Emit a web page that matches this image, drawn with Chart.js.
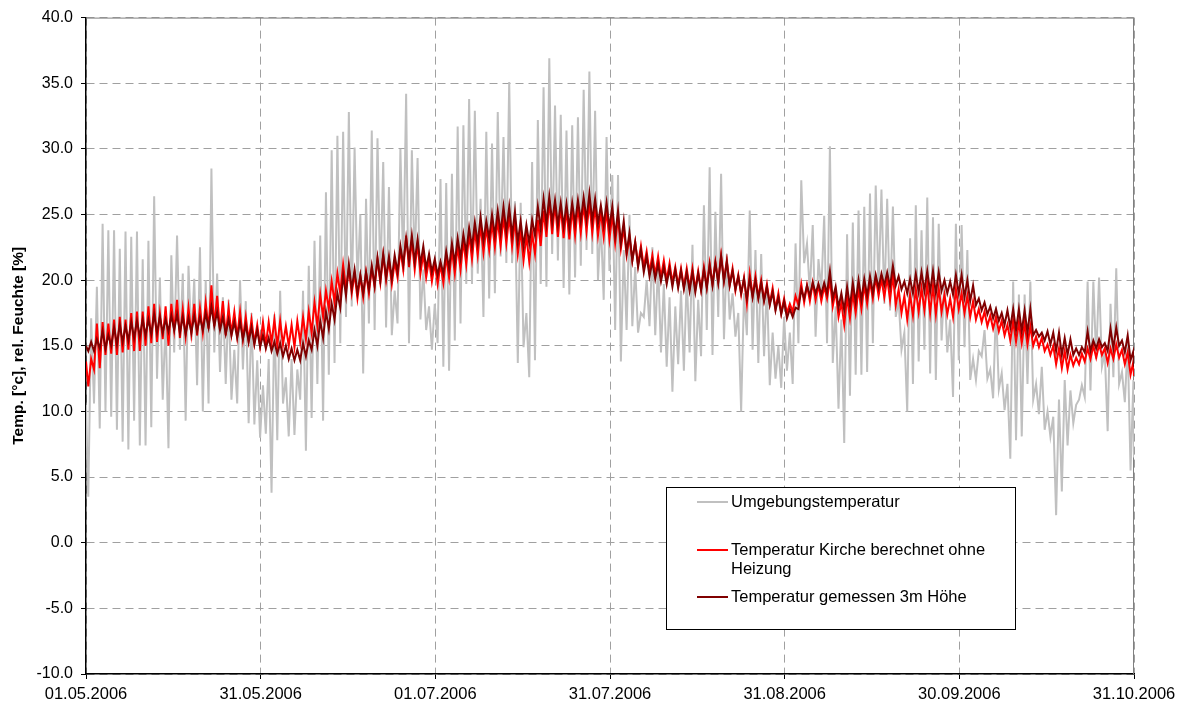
<!DOCTYPE html>
<html>
<head>
<meta charset="utf-8">
<title>Temperaturverlauf Kirche 2006</title>
<script src="https://cdn.jsdelivr.net/npm/chart.js@4.4.0/dist/chart.umd.min.js"></script>
<style>
  html, body { margin: 0; padding: 0; background: #ffffff; }
  canvas { display: block; }
</style>
</head>
<body>
<canvas id="chart" width="1183" height="706"></canvas>
<script>
// Date axis: labels and their position in days after 01.05.2006
const dateLabels = ['01.05.2006', '31.05.2006', '01.07.2006', '31.07.2006', '31.08.2006', '30.09.2006', '31.10.2006'];
const dateTickDays = [0, 30.5, 61, 91.5, 122, 152.5, 183];
const yTickValues = [-10, -5, 0, 5, 10, 15, 20, 25, 30, 35, 40];

// Legend text, one entry per series (a second line where the label wraps)
const legendLines = [
  ['Umgebungstemperatur'],
  ['Temperatur Kirche berechnet ohne', 'Heizung'],
  ['Temperatur gemessen 3m Höhe']
];

// Daily minimum (night) and maximum (afternoon), day 0 = 01.05.2006, in °C
// Outside air
const ambientStart = 10.5;
const ambientLow = [
  3.5, 10.6, 8.7, 10.0, 9.6, 8.6, 7.7, 7.1, 9.3, 7.4,
  7.4, 8.8, 12.5, 10.9, 7.2, 14.5, 14.7, 9.3, 15.4, 12.0,
  10.0, 10.6, 14.5, 13.0, 12.1, 10.9, 10.6, 13.2, 9.1, 9.0,
  8.0, 8.3, 3.8, 7.8, 10.6, 8.1, 8.2, 10.9, 7.0, 9.5,
  12.1, 9.3, 12.8, 13.7, 15.2, 17.2, 18.0, 19.7, 12.9, 16.7,
  16.2, 19.7, 16.4, 15.8, 16.7, 20.6, 15.2, 21.0, 17.0, 16.2,
  14.7, 15.2, 13.4, 13.1, 15.4, 16.7, 19.7, 19.7, 20.5, 17.2,
  18.6, 19.0, 21.8, 21.3, 21.3, 13.7, 14.9, 12.6, 13.9, 19.7,
  19.5, 22.0, 21.5, 19.4, 18.9, 20.2, 21.1, 22.3, 22.0, 20.0,
  18.5, 20.7, 16.2, 13.8, 16.2, 16.5, 16.0, 17.2, 16.5, 15.8,
  14.5, 13.4, 11.5, 13.6, 13.1, 14.5, 12.3, 14.2, 16.2, 14.3,
  17.2, 15.5, 17.0, 15.7, 10.0, 15.8, 14.7, 13.7, 14.2, 12.0,
  12.5, 11.8, 13.1, 12.1, 15.2, 21.3, 19.0, 15.7, 19.2, 15.2,
  13.7, 10.2, 7.6, 11.2, 12.8, 12.8, 13.0, 15.2, 19.2, 18.2,
  17.7, 17.2, 14.7, 10.0, 12.1, 13.8, 14.7, 12.9, 12.4, 15.4,
  14.5, 11.1, 13.9, 14.9, 12.4, 12.4, 14.2, 12.5, 11.0, 11.7,
  10.1, 6.4, 7.8, 8.1, 12.1, 10.9, 9.8, 8.6, 8.1, 2.1,
  3.9, 7.4, 9.1, 10.9, 11.1, 11.6, 14.0, 13.4, 8.5, 12.6,
  12.1, 10.7, 5.5
];
const ambientHigh = [
  17.1, 19.5, 24.3, 23.8, 23.8, 22.4, 23.7, 23.3, 23.7, 21.6,
  23.0, 26.4, 20.2, 17.0, 21.9, 23.4, 20.5, 21.1, 20.1, 22.5,
  20.0, 28.5, 20.5, 18.7, 18.5, 14.7, 20.0, 18.4, 17.5, 13.9,
  12.0, 14.0, 17.4, 19.2, 12.6, 14.0, 13.2, 19.2, 21.1, 23.0,
  23.4, 26.7, 29.9, 31.0, 31.3, 32.8, 30.1, 25.0, 26.2, 31.4,
  30.8, 29.0, 27.1, 19.2, 30.0, 34.2, 29.9, 29.3, 20.8, 18.0,
  18.2, 27.7, 27.4, 28.1, 31.7, 31.8, 33.8, 32.9, 26.2, 31.3,
  30.4, 32.8, 30.9, 35.1, 26.0, 25.9, 17.5, 29.0, 32.2, 34.7,
  36.9, 33.3, 32.6, 31.4, 31.8, 32.4, 34.5, 35.9, 32.9, 24.5,
  30.9, 28.0, 28.0, 22.3, 25.0, 21.0, 17.5, 20.0, 22.5, 21.3,
  19.7, 18.7, 18.0, 19.2, 20.3, 22.7, 18.5, 25.7, 28.6, 25.2,
  28.1, 22.0, 19.0, 17.5, 19.0, 25.3, 22.3, 22.0, 19.7, 16.0,
  15.0, 17.2, 16.0, 22.8, 27.6, 22.8, 24.2, 21.6, 24.9, 30.2,
  18.0, 17.0, 23.5, 24.4, 25.3, 25.6, 26.6, 27.2, 26.9, 26.2,
  25.6, 18.5, 16.0, 23.2, 25.7, 23.8, 26.3, 24.8, 24.3, 20.0,
  17.0, 24.3, 24.2, 22.3, 14.0, 14.6, 16.2, 13.2, 18.0, 12.9,
  12.1, 19.9, 18.9, 18.9, 19.9, 12.1, 13.4, 10.0, 9.6, 10.9,
  12.4, 11.6, 10.5, 12.0, 19.9, 19.9, 20.2, 14.5, 18.2, 20.9,
  13.0, 15.2, 12.4
];
const ambientEnd = 6.5;

// Church interior, simulated without heating
const calcStart = 13.8;
const calcLow = [
  11.9, 13.2, 13.3, 14.3, 14.4, 14.3, 14.5, 14.7, 14.6, 14.6,
  15.0, 15.2, 15.3, 15.5, 15.0, 16.2, 15.6, 15.7, 15.9, 15.8,
  16.0, 16.3, 16.5, 16.2, 15.8, 15.9, 15.7, 15.5, 15.4, 15.2,
  15.0, 15.0, 15.2, 15.0, 15.1, 15.0, 14.9, 15.3, 15.5, 16.0,
  16.5, 17.2, 17.8, 18.3, 19.0, 19.3, 19.0, 18.6, 18.7, 19.0,
  19.5, 19.8, 20.0, 19.7, 20.2, 20.8, 21.0, 20.8, 20.5, 20.2,
  19.9, 19.7, 19.8, 20.2, 20.5, 20.8, 21.2, 21.6, 21.9, 22.1,
  22.3, 22.5, 22.6, 22.8, 22.6, 22.0, 21.5, 21.4, 22.0, 22.6,
  23.3, 23.5, 23.3, 23.2, 23.1, 23.4, 23.6, 23.7, 23.6, 23.4,
  23.3, 23.1, 22.8, 22.4, 21.9, 21.5, 21.2, 21.0, 20.6, 20.4,
  20.2, 20.0, 19.8, 19.6, 19.5, 19.4, 19.3, 19.3, 19.5, 19.7,
  19.9, 20.0, 19.6, 19.2, 18.9, 18.2, 18.8, 18.7, 18.5, 18.2,
  17.8, 17.5, 17.5, 17.6, 18.1, 18.3, 18.4, 18.5, 18.4, 18.6,
  18.0, 17.2, 16.6, 17.1, 17.5, 17.8, 18.2, 18.6, 18.8, 18.7,
  18.5, 18.1, 17.5, 17.0, 17.3, 17.6, 17.7, 17.5, 17.4, 17.6,
  17.4, 17.2, 17.8, 17.5, 17.2, 17.0, 16.8, 16.5, 16.3, 16.1,
  15.8, 15.4, 15.3, 15.2, 15.1, 15.0, 14.9, 14.6, 14.3, 13.6,
  13.3, 13.2, 13.5, 13.6, 13.8, 14.0, 14.1, 14.3, 13.7, 14.0,
  14.1, 13.6, 12.8
];
const calcHigh = [
  14.0, 16.7, 16.8, 16.7, 17.0, 17.2, 17.0, 17.5, 17.6, 17.6,
  18.0, 18.2, 17.5, 18.0, 18.2, 18.5, 17.8, 17.9, 18.2, 17.9,
  18.3, 19.6, 18.8, 18.4, 17.9, 17.6, 17.6, 17.2, 17.0, 16.6,
  16.8, 16.8, 17.0, 16.9, 16.5, 16.6, 16.9, 17.2, 17.6, 18.3,
  18.9, 19.2, 19.9, 20.5, 21.2, 20.9, 20.5, 20.3, 20.6, 20.9,
  21.6, 21.9, 21.5, 21.4, 22.3, 23.4, 23.0, 22.8, 22.0, 21.6,
  21.3, 21.2, 21.8, 22.3, 22.6, 23.0, 23.5, 23.8, 24.2, 24.0,
  24.4, 24.6, 24.8, 24.9, 24.6, 23.8, 23.4, 23.6, 24.6, 25.3,
  26.1, 25.8, 25.6, 25.4, 25.4, 25.6, 25.8, 25.9, 25.6, 25.2,
  25.3, 25.0, 24.8, 24.0, 23.3, 22.9, 22.6, 22.2, 21.9, 21.8,
  21.5, 21.3, 21.0, 20.9, 20.9, 20.9, 20.7, 21.0, 21.3, 21.4,
  21.9, 21.5, 20.9, 20.4, 20.2, 20.5, 20.3, 20.0, 19.7, 19.4,
  19.0, 18.6, 18.2, 18.8, 19.7, 19.6, 19.8, 19.6, 19.5, 20.0,
  19.2, 18.3, 18.7, 19.0, 19.3, 19.6, 19.9, 20.2, 20.1, 20.2,
  20.4, 19.3, 18.8, 18.9, 19.3, 19.4, 19.7, 19.6, 19.4, 18.9,
  18.6, 19.3, 19.0, 18.8, 18.4, 17.8, 17.6, 17.3, 17.2, 16.9,
  16.6, 16.9, 16.8, 16.7, 16.5, 15.7, 15.6, 15.1, 15.0, 14.8,
  14.6, 14.3, 14.1, 14.4, 14.8, 15.0, 15.1, 14.8, 14.8, 15.1,
  14.7, 14.5, 13.8
];
const calcEnd = 12.7;

// Church interior, measured at 3 m height
const measStart = 15.0;
const measLow = [
  14.6, 14.6, 14.8, 14.8, 15.0, 15.1, 15.3, 15.4, 15.6, 15.7,
  15.8, 15.9, 16.0, 16.0, 16.1, 16.2, 16.0, 15.9, 16.0, 16.1,
  16.2, 16.4, 16.5, 16.2, 15.9, 15.8, 15.6, 15.5, 15.3, 15.1,
  14.9, 14.8, 14.6, 14.4, 14.2, 14.0, 13.9, 13.9, 14.2, 14.7,
  15.0, 15.6, 16.3, 17.0, 17.9, 18.8, 19.3, 19.0, 19.0, 19.3,
  19.6, 20.0, 20.2, 20.1, 20.6, 21.2, 21.5, 21.4, 21.2, 20.9,
  20.6, 20.4, 20.5, 20.9, 21.3, 21.7, 22.1, 22.5, 22.8, 23.0,
  23.2, 23.4, 23.6, 23.7, 23.4, 22.9, 22.6, 22.8, 23.4, 23.9,
  24.3, 24.4, 24.2, 24.1, 24.0, 24.3, 24.5, 24.6, 24.5, 24.3,
  24.2, 24.0, 23.4, 22.8, 22.1, 21.5, 21.0, 20.6, 20.3, 20.1,
  19.9, 19.7, 19.5, 19.4, 19.3, 19.2, 19.1, 19.2, 19.4, 19.6,
  19.8, 19.9, 19.6, 19.3, 19.0, 18.6, 18.7, 18.6, 18.4, 18.1,
  17.7, 17.4, 17.1, 17.2, 17.8, 18.6, 18.8, 19.0, 18.9, 19.0,
  18.6, 17.9, 17.7, 18.0, 18.3, 18.5, 18.8, 19.0, 19.4, 19.6,
  19.5, 19.6, 19.3, 19.0, 19.0, 19.1, 19.2, 19.1, 19.0, 19.2,
  19.0, 18.9, 19.0, 18.7, 18.4, 18.1, 17.7, 17.4, 17.1, 16.9,
  16.6, 16.4, 16.2, 16.1, 16.0, 15.8, 15.7, 15.4, 15.1, 14.6,
  14.3, 14.3, 14.3, 14.3, 14.5, 14.6, 14.8, 14.9, 14.6, 14.8,
  15.0, 14.5, 13.9
];
const measHigh = [
  15.3, 15.5, 16.1, 15.8, 16.4, 16.6, 16.5, 16.8, 16.9, 17.0,
  17.0, 17.4, 17.2, 17.0, 17.3, 17.4, 17.2, 17.1, 17.3, 17.2,
  17.5, 18.0, 17.6, 17.2, 17.0, 16.8, 16.8, 16.6, 16.4, 16.2,
  15.8, 15.6, 15.3, 15.2, 15.0, 14.8, 14.7, 15.2, 15.4, 16.2,
  16.9, 17.6, 18.2, 19.0, 20.4, 21.2, 20.8, 20.4, 20.6, 21.1,
  21.7, 22.0, 21.8, 21.9, 22.6, 23.2, 23.4, 23.1, 22.6, 22.0,
  21.6, 21.4, 22.2, 22.8, 23.2, 23.5, 24.0, 24.4, 24.8, 24.5,
  25.0, 25.3, 25.6, 25.6, 25.2, 24.5, 24.2, 24.6, 25.6, 26.2,
  26.4, 26.1, 25.9, 25.8, 25.9, 26.1, 26.3, 26.6, 26.2, 25.7,
  25.9, 25.6, 25.3, 24.5, 23.6, 22.9, 22.3, 21.8, 21.4, 21.2,
  21.0, 20.9, 20.8, 20.7, 20.6, 20.6, 20.5, 20.8, 21.1, 21.3,
  21.8, 21.4, 20.7, 20.3, 20.1, 20.1, 20.0, 19.8, 19.5, 19.1,
  18.7, 18.4, 17.8, 17.9, 19.3, 19.6, 19.8, 19.7, 19.8, 20.7,
  19.5, 19.0, 19.5, 19.8, 20.0, 20.1, 20.3, 20.4, 20.5, 20.6,
  21.1, 20.3, 19.9, 20.1, 20.5, 20.6, 20.7, 20.7, 20.6, 20.0,
  19.9, 20.4, 20.4, 20.0, 19.6, 18.6, 18.3, 18.0, 17.8, 17.5,
  17.7, 17.8, 17.8, 17.7, 17.8, 16.2, 16.0, 16.1, 16.0, 16.0,
  15.6, 15.5, 14.8, 14.9, 16.1, 15.4, 15.5, 15.2, 16.3, 16.4,
  15.4, 15.8, 14.6
];
const measEnd = 13.4;

// Time of day (fraction of a day) at which the minimum and maximum are placed
const LOW_AT = 0.4;
const HIGH_AT = 0.9;

function dailySeries(start, low, high, end) {
  const pts = [{ x: 0, y: start }];
  for (let d = 0; d < low.length; d++) {
    pts.push({ x: d + LOW_AT, y: low[d] });
    pts.push({ x: d + HIGH_AT, y: high[d] });
  }
  pts.push({ x: dateTickDays[dateTickDays.length - 1], y: end });
  return pts;
}

const FONT = "'Liberation Sans', Arial, Helvetica, sans-serif";

const seriesColors = ['#c0c0c0', '#ff0000', '#800000'];

// Grey frame on top/right, and the boxed legend inside the plot
const frameAndLegend = {
  id: 'frameAndLegend',
  beforeDatasetsDraw(chart) {
    const { ctx, chartArea: { left, top, right, bottom } } = chart;
    ctx.save();
    ctx.strokeStyle = '#808080';
    ctx.lineWidth = 1;
    ctx.setLineDash([]);
    ctx.beginPath();
    ctx.moveTo(left, top + 0.5);
    ctx.lineTo(right - 0.5, top + 0.5);
    ctx.lineTo(right - 0.5, bottom);
    ctx.stroke();
    ctx.restore();
  },
  afterDraw(chart) {
    const { ctx } = chart;
    const box = { x: 666.5, y: 487.5, w: 349, h: 142 };
    const rows = [502, 550, 597];
    ctx.save();
    ctx.fillStyle = '#ffffff';
    ctx.fillRect(box.x, box.y, box.w, box.h);
    ctx.strokeStyle = '#000000';
    ctx.lineWidth = 1;
    ctx.strokeRect(box.x, box.y, box.w, box.h);
    ctx.font = '16.5px ' + FONT;
    ctx.textBaseline = 'middle';
    ctx.textAlign = 'left';
    chart.data.datasets.forEach((ds, i) => {
      const y = rows[i];
      ctx.strokeStyle = ds.borderColor;
      ctx.lineWidth = 2;
      ctx.beginPath();
      ctx.moveTo(697, y);
      ctx.lineTo(728, y);
      ctx.stroke();
      ctx.fillStyle = '#000000';
      legendLines[i].forEach((line, k) => ctx.fillText(line, 731, y + k * 19));
    });
    ctx.restore();
  }
};

new Chart(document.getElementById('chart'), {
  type: 'line',
  data: {
    datasets: [
      {
        label: legendLines[0].join(' '),
        data: dailySeries(ambientStart, ambientLow, ambientHigh, ambientEnd),
        borderColor: seriesColors[0],
        borderWidth: 2,
        order: 3
      },
      {
        label: legendLines[1].join(' '),
        data: dailySeries(calcStart, calcLow, calcHigh, calcEnd),
        borderColor: seriesColors[1],
        borderWidth: 2,
        order: 2
      },
      {
        label: legendLines[2].join(' '),
        data: dailySeries(measStart, measLow, measHigh, measEnd),
        borderColor: seriesColors[2],
        borderWidth: 2,
        order: 1
      }
    ]
  },
  options: {
    responsive: false,
    animation: false,
    devicePixelRatio: 1,
    layout: { padding: { left: 0, right: 49, top: 17, bottom: 0 } },
    elements: { point: { radius: 0 }, line: { tension: 0 } },
    plugins: {
      legend: { display: false },
      tooltip: { enabled: false }
    },
    scales: {
      x: {
        type: 'linear',
        min: 0,
        max: 183,
        afterBuildTicks: (s) => { s.ticks = dateTickDays.map(v => ({ value: v })); },
        afterFit: (s) => { s.height = 32; },
        ticks: {
          callback: (v, i) => dateLabels[i],
          autoSkip: false,
          maxRotation: 0,
          color: '#000000',
          padding: 6,
          font: { family: FONT, size: 16.5 }
        },
        grid: { color: '#a0a0a0', lineWidth: 1, tickLength: 5, tickColor: '#000000', tickBorderDash: [] },
        border: { display: true, color: '#000000', width: 1.5, dash: [8, 5] }
      },
      y: {
        min: -10,
        max: 40,
        afterBuildTicks: (s) => { s.ticks = yTickValues.map(v => ({ value: v })); },
        afterFit: (s) => { s.width = 86; },
        ticks: {
          callback: (v) => v.toFixed(1),
          color: '#000000',
          padding: 8,
          font: { family: FONT, size: 16 }
        },
        title: {
          display: true,
          text: 'Temp. [°c], rel. Feuchte [%]',
          color: '#000000',
          font: { family: FONT, size: 15.5, weight: 'bold' },
          padding: { top: 9, bottom: 0 }
        },
        grid: { color: '#a0a0a0', lineWidth: 1, tickLength: 5, tickColor: '#000000', tickBorderDash: [] },
        border: { display: true, color: '#000000', width: 1.5, dash: [8, 5] }
      }
    }
  },
  plugins: [frameAndLegend]
});
</script>
</body>
</html>
